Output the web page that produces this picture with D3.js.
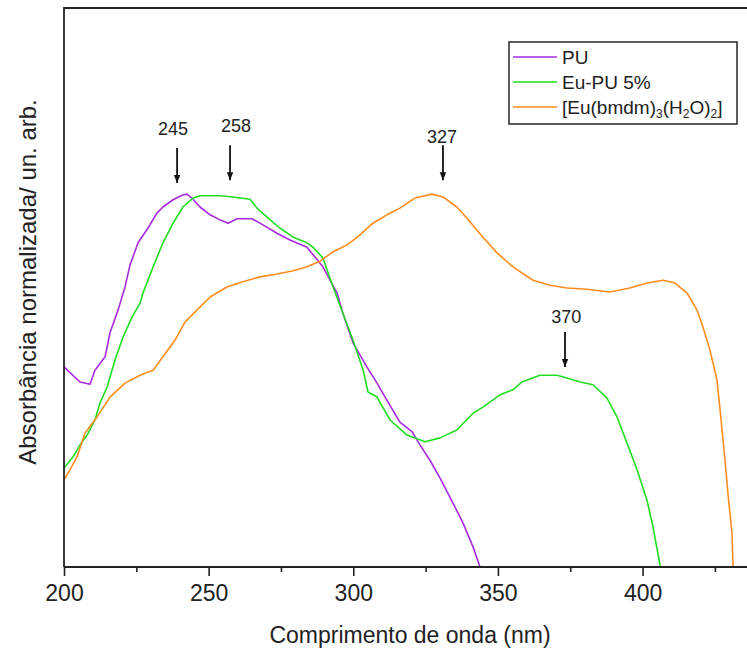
<!DOCTYPE html>
<html>
<head>
<meta charset="utf-8">
<script src="https://cdn.jsdelivr.net/npm/d3@7"></script>
<style>
  html, body { margin: 0; padding: 0; background: #fff; }
  svg { display: block; }
  text { font-family: "Liberation Sans", Arial, sans-serif; fill: #222; }
</style>
</head>
<body>
<svg id="chart" width="747" height="653"></svg>
<script>
// ---- data (wavelength nm, normalized absorbance) ----
const puNm = [200,205.5,209,210.7,214.2,215.9,218.7,221.1,222.8,225.6,229,232.1,234.2,237.7,240.8,242.5,244.2,247,250.5,253.9,256.7,259.8,265,268.8,273.6,278.1,284,289.5,294.4,296.4,299.9,304.7,308.2,311,316.1,320.3,323.1,326.5,330,334.5,337.9,341.4,343.8];
const puAbs = [0.358,0.331,0.327,0.352,0.376,0.419,0.46,0.501,0.54,0.58,0.606,0.633,0.644,0.657,0.665,0.667,0.66,0.644,0.63,0.621,0.615,0.623,0.623,0.612,0.597,0.585,0.572,0.537,0.49,0.454,0.401,0.358,0.329,0.304,0.259,0.242,0.218,0.191,0.159,0.114,0.079,0.036,0];

const euNm = [200,203.1,205.5,208,210.7,212.4,214.9,217.6,220.4,223.5,226.3,227.3,230.8,234.2,237.7,241.1,244.6,247,253.9,258.4,264.3,266.7,270.2,274.7,279.2,284,286.1,289.5,293,296.4,299.9,303.4,305.1,308.2,312.7,318.6,324.8,330,335.8,341.4,344.8,350.7,355.2,358.3,364.5,370.4,373.9,378.4,382.9,387.7,391.2,394.6,398.1,401.5,403.6,406,406.3];
const euAbs = [0.177,0.197,0.218,0.236,0.263,0.293,0.322,0.37,0.411,0.447,0.472,0.49,0.537,0.58,0.615,0.644,0.66,0.664,0.664,0.662,0.658,0.642,0.626,0.606,0.59,0.58,0.572,0.553,0.501,0.454,0.406,0.352,0.313,0.304,0.263,0.236,0.224,0.231,0.245,0.275,0.286,0.308,0.317,0.331,0.343,0.343,0.338,0.331,0.326,0.302,0.268,0.222,0.174,0.12,0.072,0.004,0];

const cxNm = [200,202.1,204.5,207.3,211.4,215.9,221.1,226.3,230.8,234.2,238.4,241.8,246,250.5,256.3,261.5,267.8,273.6,279.2,284,288.5,293,297.8,302.3,306.8,311.6,316.1,321.3,327.2,331,335.8,339.3,344.8,349.7,355.2,362.1,368,373.9,380.8,388.7,395.6,401.5,407.1,411.2,415.4,418.8,420.9,423.3,425.7,426.8,428.5,429.5,430.9,431.3];
const cxAbs = [0.156,0.174,0.197,0.24,0.268,0.304,0.329,0.343,0.352,0.376,0.406,0.438,0.46,0.483,0.501,0.51,0.519,0.524,0.53,0.537,0.547,0.564,0.576,0.594,0.615,0.63,0.642,0.66,0.667,0.662,0.644,0.624,0.59,0.562,0.537,0.513,0.504,0.499,0.497,0.492,0.499,0.508,0.513,0.508,0.49,0.46,0.429,0.388,0.335,0.281,0.191,0.132,0.061,0];

const seriesNames = ["PU", "Eu-PU 5%", "[Eu(bmdm)3(H2O)2]"];
const seriesColors = ["#a52be0", "#22dd22", "#ff8c1e"];
const majorTicks = [200, 250, 300, 350, 400];
const minorTicks = [225, 275, 325, 375, 425];
const peakLabels = ["245", "258", "327", "370"];
const arrowNm = [239.1, 257.4, 331.0, 373.2];      // where the arrows are drawn
const arrowTipAbs = [0.687, 0.692, 0.692, 0.358];  // arrow tip height
const labelNm = [237.7, 259.5, 330.7, 373.6];      // label centres
const labelAbs = [0.773, 0.779, 0.758, 0.436];     // label baselines
const xTitle = "Comprimento de onda (nm)";
const yTitle = "Absorbância normalizada/ un. arb.";

// ---- layout ----
const svg = d3.select("#chart");
const L = 64, R = 747, T = 8, B = 567;
const x = d3.scaleLinear().domain([200, 436.1]).range([L, R]);
const y = d3.scaleLinear().domain([0, 1]).range([B, T]);

const defs = svg.append("defs");
defs.append("clipPath").attr("id", "clip")
  .append("rect").attr("x", L).attr("y", T).attr("width", R - L).attr("height", B - T);

const line = d3.line().x(d => x(d[0])).y(d => y(d[1]));
const seriesData = [
  d3.zip(puNm, puAbs),
  d3.zip(euNm, euAbs),
  d3.zip(cxNm, cxAbs)
];
const g = svg.append("g").attr("clip-path", "url(#clip)");
seriesData.forEach((d, i) => {
  g.append("path").datum(d).attr("d", line)
    .attr("fill", "none").attr("stroke", seriesColors[i])
    .attr("stroke-width", 1.6).attr("stroke-linejoin", "round");
});

// ---- axes ----
const axisColor = "#222";
const xAxisMajor = d3.axisBottom(x).tickValues(majorTicks).tickSize(9).tickPadding(9).tickFormat(d3.format("d"));
const gx = svg.append("g").attr("transform", `translate(0,${B})`).call(xAxisMajor);
gx.select(".domain").remove();
gx.selectAll(".tick line").attr("stroke", axisColor).attr("stroke-width", 1.6);
gx.selectAll(".tick text").attr("font-size", 23).attr("fill", "#222")
  .style("font-family", '"Liberation Sans", Arial, sans-serif');
const xAxisMinor = d3.axisBottom(x).tickValues(minorTicks).tickSize(5).tickFormat("");
const gm = svg.append("g").attr("transform", `translate(0,${B})`).call(xAxisMinor);
gm.select(".domain").remove();
gm.selectAll(".tick line").attr("stroke", axisColor).attr("stroke-width", 1.6);

// frame lines
svg.append("line").attr("x1", L).attr("x2", R).attr("y1", B).attr("y2", B)
  .attr("stroke", axisColor).attr("stroke-width", 1.8);
svg.append("line").attr("x1", L).attr("x2", R).attr("y1", T).attr("y2", T)
  .attr("stroke", axisColor).attr("stroke-width", 1.8);
svg.append("line").attr("x1", L).attr("x2", L).attr("y1", T - 0.9).attr("y2", B)
  .attr("stroke", axisColor).attr("stroke-width", 1.8);

// titles
svg.append("text").attr("x", 410).attr("y", 643).attr("text-anchor", "middle")
  .attr("font-size", 23).text(xTitle);
svg.append("text").attr("transform", `translate(36,282) rotate(-90)`)
  .attr("text-anchor", "middle").attr("font-size", 24).text(yTitle);

// ---- peak arrows ----
defs.append("marker").attr("id", "arrow").attr("viewBox", "0 0 10 10")
  .attr("refX", 10).attr("refY", 5).attr("markerWidth", 11).attr("markerHeight", 8)
  .attr("markerUnits", "userSpaceOnUse").attr("orient", "auto")
  .append("path").attr("d", "M0,1 L10,5 L0,9 Z").attr("fill", "#111");
peakLabels.forEach((lab, i) => {
  const px = x(arrowNm[i]);
  const tipY = y(arrowTipAbs[i]);
  svg.append("line").attr("x1", px).attr("x2", px)
    .attr("y1", tipY - 35).attr("y2", tipY)
    .attr("stroke", "#111").attr("stroke-width", 1.8).attr("marker-end", "url(#arrow)");
  svg.append("text").attr("x", x(labelNm[i])).attr("y", y(labelAbs[i]))
    .attr("text-anchor", "middle").attr("font-size", 18).text(lab);
});

// ---- legend ----
const lg = svg.append("g");
lg.append("rect").attr("x", 509).attr("y", 42).attr("width", 228).attr("height", 82)
  .attr("fill", "#fff").attr("stroke", "#333").attr("stroke-width", 1.6);
seriesNames.forEach((n, i) => {
  const cy = 57 + i * 25;
  lg.append("line").attr("x1", 513).attr("x2", 557).attr("y1", cy).attr("y2", cy)
    .attr("stroke", seriesColors[i]).attr("stroke-width", 1.6);
  const t = lg.append("text").attr("x", 562).attr("y", cy + 7).attr("font-size", 19);
  if (i < 2) {
    t.text(n);
  } else {
    t.append("tspan").text("[Eu(bmdm)");
    t.append("tspan").attr("font-size", 12).attr("dy", 4).text("3");
    t.append("tspan").attr("dy", -4).text("(H");
    t.append("tspan").attr("font-size", 12).attr("dy", 4).text("2");
    t.append("tspan").attr("dy", -4).text("O)");
    t.append("tspan").attr("font-size", 12).attr("dy", 4).text("2");
    t.append("tspan").attr("dy", -4).text("]");
  }
});
</script>
</body>
</html>
